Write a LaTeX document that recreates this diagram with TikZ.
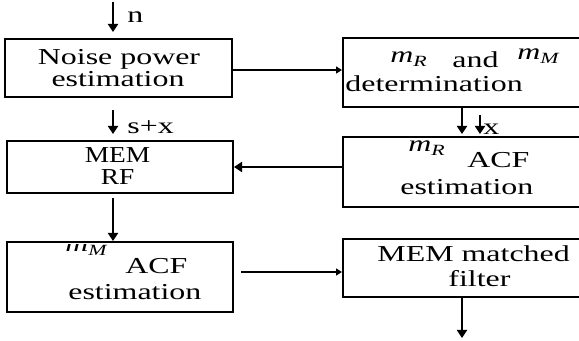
\documentclass[tikz,border=0pt]{standalone}
\usepackage{fontspec}
\setmainfont[FakeStretch=1.4]{Liberation Serif}
\newfontfamily\narrowserif[FakeStretch=1.2]{Liberation Serif}
\usetikzlibrary{fit,arrows.meta}
\tikzset{
  box/.style={draw, line width=1pt, inner sep=0pt, rectangle},
  txt/.style={inner sep=0pt, anchor=base west, font=\fontsize{11.4}{12}\selectfont},
  ctxt/.style={inner sep=0pt, anchor=base, font=\fontsize{11.4}{12}\selectfont\narrowserif},
  arr/.style={line width=0.9pt, -{Triangle[length=4pt,width=5pt]}},
  harr/.style={line width=0.7pt, -{Triangle[length=3pt,width=3.5pt]}},
}
\newcommand{\mvar}[1]{\textit{m}\raisebox{-0.35ex}{\fontsize{7.8}{8}\selectfont\textit{#1}}}
\begin{document}
\begin{tikzpicture}[x=0.5pt,y=-0.5pt]
  \clip (0,0) rectangle (579,341);
  \fill[white] (0,0) rectangle (579,341);

  % blocks
  \node[box, fit={(5,39) (232,97)}] (noise) {};
  \node[box, fit={(343,38) (620,107)}] (det) {};
  \node[box, fit={(343,137) (620,207)}] (acfr) {};
  \node[box, fit={(7,141) (233,193)}] (memrf) {};
  \node[box, fit={(7,242) (233,312)}] (acfm) {};
  \node[box, fit={(343,239) (620,297)}] (mf) {};

  % block texts
  \node[txt, anchor=base] (t1a) at (119,65) {Noise power};
  \node[txt, anchor=base] (t1b) at (118,87) {estimation};

  \node[txt] (t2a) at (390,63) {\mvar{R}};
  \node[txt] (t2b) at (452,68) {and};
  \node[txt] (t2c) at (517,60) {\mvar{M}};
  \node[txt] (t2d) at (345,92) {determination};

  \node[txt] (t3a) at (408,152) {\mvar{R}};
  \node[txt] (t3b) at (467,168) {ACF};
  \node[txt] (t3c) at (400,195) {estimation};

  \node[ctxt] (t4a) at (117.5,163) {MEM};
  \node[ctxt] (t4b) at (117.5,185) {RF};

  \begin{scope}
    \clip (0,245) rectangle (240,262);
    \node[txt] (t5a) at (65,252) {\mvar{M}};
  \end{scope}
  \node[txt] (t5b) at (125,274) {ACF};
  \node[txt] (t5c) at (68,300) {estimation};

  \node[txt] (t6a) at (377,262) {MEM matched};
  \node[txt] (t6b) at (448,287) {filter};

  % free ends
  \coordinate (nin) at (113,2);
  \coordinate (sxin) at (113,110);
  \coordinate (xin) at (480,115);
  \coordinate (out) at (462,338);

  % connectors
  \draw[arr, shorten >=3pt] (nin) -- (nin |- noise.north);
  \node[txt] (ln) at (127,23) {n};

  \draw[arr, shorten >=3pt] (sxin) -- (sxin |- memrf.north);
  \node[txt] (lsx) at (127,134) {s+x};

  \draw[harr] (noise.east |- 0,70) -- (det.west |- 0,70);

  \draw[arr, shorten >=1pt] (det.south -| 462,0) -- (acfr.north -| 462,0);
  \draw[arr, shorten >=1pt] (xin) -- (xin |- acfr.north);
  \node[txt] (lx) at (483,135) {x};

  \draw[arr] (acfr.west |- 0,167) -- (memrf.east |- 0,167);

  \draw[arr, shorten <=2pt] (memrf.south -| 113,0) -- (acfm.north -| 113,0);

  \draw[harr, shorten <=3.5pt] (acfm.east |- 0,272) -- (mf.west |- 0,272);

  \draw[arr] (mf.south -| out) -- (out);
\end{tikzpicture}
\end{document}
